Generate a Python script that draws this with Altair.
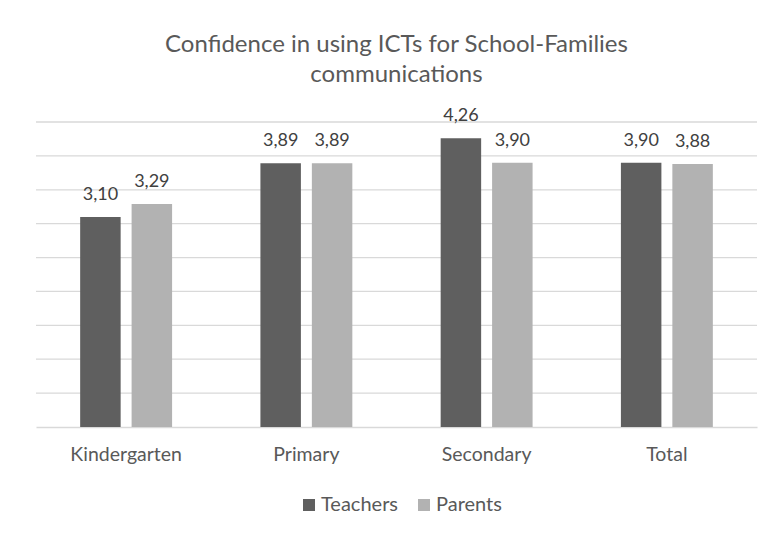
import altair as alt
import pandas as pd

categories = ["Kindergarten", "Primary", "Secondary", "Total"]
series = ["Teachers", "Parents"]
teachers = [3.10, 3.89, 4.26, 3.90]
parents = [3.29, 3.89, 3.90, 3.88]
colors = ["#5f5f5f", "#b2b2b2"]
grid_values = [0.5, 1, 1.5, 2, 2.5, 3, 3.5, 4, 4.5]
title_lines = ["Confidence in using ICTs for School-Families", "communications"]

rows = []
for c, t, p in zip(categories, teachers, parents):
    rows.append({"category": c, "group": "Teachers", "value": t})
    rows.append({"category": c, "group": "Parents", "value": p})
df = pd.DataFrame(rows)
grid_df = pd.DataFrame({"g": grid_values})

FONT = "Lato"

yscale = alt.Scale(domain=[0, 4.5], nice=False)

x = alt.X("category:N", sort=categories, title=None,
          scale=alt.Scale(paddingInner=0.49, paddingOuter=0.245),
          axis=alt.Axis(labelAngle=0, ticks=False, tickSize=0, domain=True,
                        domainColor="#d9d9d9", domainWidth=1.5,
                        labelFont=FONT, labelFontSize=19.5, labelColor="#595959",
                        labelBaseline="alphabetic", labelPadding=33))
xo = alt.XOffset("group:N", sort=series,
                 scale=alt.Scale(paddingInner=0.213, paddingOuter=0))
y = alt.Y("value:Q", title=None, scale=yscale, axis=None)

grid = alt.Chart(grid_df).mark_rule(color="#d9d9d9", strokeWidth=1.3).encode(
    y=alt.Y("g:Q", scale=yscale, axis=None)
)

bars = alt.Chart(df).mark_bar().encode(
    x=x, xOffset=xo, y=y,
    color=alt.Color("group:N", sort=series,
                    scale=alt.Scale(domain=series, range=colors),
                    legend=alt.Legend(title=None, orient="none", direction="horizontal",
                                      legendX=263, legendY=373,
                                      symbolType="square", symbolSize=144,
                                      symbolStrokeWidth=0,
                                      labelFont=FONT, labelFontSize=20,
                                      labelColor="#595959", labelOffset=2,
                                      columnPadding=15)),
)

labels = alt.Chart(df).transform_calculate(
    lbl="replace(format(datum.value, '.2f'), '.', ',')"
).mark_text(font=FONT, fontSize=18, color="#404040", baseline="alphabetic", dy=-17).encode(
    x=x, xOffset=xo, y=y,
    text="lbl:N",
)

chart = alt.layer(grid, bars, labels).properties(
    width=721, height=305,
    autosize=alt.AutoSizeParams(type="none"),
    padding={"left": 28, "top": 114, "right": 9, "bottom": 90},
    title=alt.TitleParams(title_lines, font=FONT, fontSize=24, fontWeight="normal",
                          color="#595959", anchor="middle", offset=20, lineHeight=30),
).configure_view(stroke=None)

chart.save("out.html", embed_options={"renderer": "svg", "actions": False})
